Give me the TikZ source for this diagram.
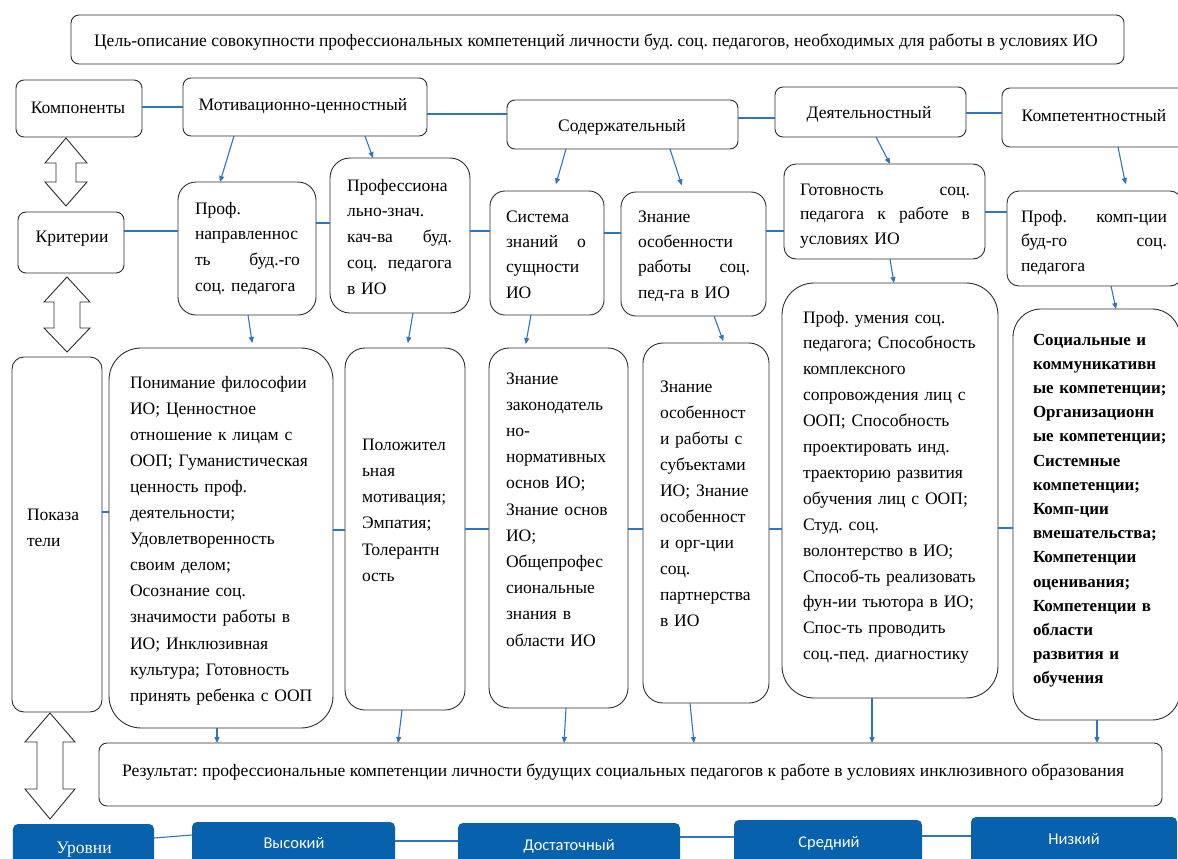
\documentclass[tikz,border=0pt]{standalone}
\usepackage{fontspec}
\setmainfont{Liberation Serif}
\newfontfamily\calib{Carlito}
\usetikzlibrary{arrows.meta}
\definecolor{lnblue}{RGB}{46,117,190}
\definecolor{bxblue}{RGB}{8,97,172}
\definecolor{bord}{RGB}{45,45,45}
\newcommand\jl[2]{\leavevmode\hbox to #1bp{#2}}
\tikzset{
  box/.style={draw=bord, line width=0.9bp, fill=white, inner sep=0pt, outer sep=0pt, rounded corners=#1},
  box/.default=8bp,
  blk/.style={fill=bxblue, draw=none, inner sep=0pt, outer sep=0pt, rounded corners=5bp},
  txt/.style={inner sep=0pt, outer sep=0pt, anchor=base west, align=left, text width=400bp, font=\frenchspacing\fontsize{17.6}{#1}\selectfont},
  txt/.default=26,
  stxt/.style={inner sep=0pt, outer sep=0pt, anchor=base, font=\frenchspacing\fontsize{17.6}{20}\selectfont},
  wtxt/.style={inner sep=0pt, outer sep=0pt, anchor=base, text=white, font=\calib\fontsize{16.5}{19}\selectfont},
  ln/.style={draw=lnblue, line width=1.1bp},
  arr/.style={ln, -{Triangle[length=6bp,width=5bp]}},
  blockarrow/.style={draw=bord, line width=0.9bp, fill=white, line join=miter},
}
\begin{document}
\begin{tikzpicture}[x=1bp,y=-1bp]
\useasboundingbox (0,0) rectangle (1178,859);
\clip (0,0) rectangle (1178,859);

% ---------- boxes ----------
\node[box, minimum width=1053bp, minimum height=49bp] (goal) at (597.5,39.5) {};
\node[box, minimum width=126bp, minimum height=57bp] (komp) at (79,108.5) {};
\node[box, minimum width=244bp, minimum height=58bp] (motiv) at (305,107) {};
\node[box, minimum width=231bp, minimum height=49bp] (soder) at (622.5,124.5) {};
\node[box, minimum width=191bp, minimum height=50bp] (deyat) at (870.5,112) {};
\node[box, minimum width=189bp, minimum height=59bp] (kompet) at (1096.5,117.5) {};
\node[box, minimum width=106bp, minimum height=61bp] (krit) at (71,242.5) {};
\node[box=18bp, minimum width=138bp, minimum height=133bp] (napr) at (247,248.5) {};
\node[box=20bp, minimum width=140bp, minimum height=155bp] (prof) at (400,235.5) {};
\node[box=15bp, minimum width=114bp, minimum height=124bp] (sys) at (547,253) {};
\node[box=15bp, minimum width=145bp, minimum height=124bp] (znos) at (693.5,254) {};
\node[box=12bp, minimum width=201bp, minimum height=95bp] (gotov) at (884.5,211.5) {};
\node[box=12bp, minimum width=175bp, minimum height=95bp] (profk) at (1094.5,238.5) {};
\node[box=12bp, minimum width=90bp, minimum height=355bp] (pokaz) at (57,534.5) {};
\node[box=32bp, minimum width=224bp, minimum height=380bp] (ponim) at (221,538) {};
\node[box=20bp, minimum width=120bp, minimum height=362bp] (polozh) at (405,529) {};
\node[box=20bp, minimum width=139bp, minimum height=360bp] (zakon) at (558.5,528) {};
\node[box=20bp, minimum width=126bp, minimum height=360bp] (osob) at (706,523) {};
\node[box=32bp, minimum width=216bp, minimum height=415bp] (umen) at (890,490.5) {};
\node[box=28bp, minimum width=167bp, minimum height=411bp] (soc) at (1096.5,514.5) {};
\node[box, minimum width=1063bp, minimum height=63bp] (result) at (630.5,774.5) {};
\node[blk, minimum width=141bp, minimum height=66bp] (urovni) at (83.5,857) {};
\node[blk, minimum width=203bp, minimum height=68bp] (vysok) at (293.5,856) {};
\node[blk, minimum width=222bp, minimum height=67bp] (dost) at (569,856.5) {};
\node[blk, minimum width=188bp, minimum height=70bp] (sred) at (828,855) {};
\node[blk, minimum width=206bp, minimum height=73bp] (nizk) at (1074,853.5) {};

% ---------- block double arrows ----------
\draw[blockarrow] (66,138) -- (87,163) -- (76,163) -- (76,182) -- (87,182) -- (66,206)
  -- (45,182) -- (56,182) -- (56,163) -- (45,163) -- cycle;
\draw[blockarrow] (67,277) -- (90,302) -- (80,302) -- (80,328) -- (90,328) -- (67,352)
  -- (44,328) -- (54,328) -- (54,302) -- (44,302) -- cycle;
\draw[blockarrow] (50,713) -- (75,742) -- (63,742) -- (63,789) -- (75,789) -- (50,819)
  -- (25,789) -- (37,789) -- (37,742) -- (25,742) -- cycle;

% ---------- texts ----------
\node[stxt] (t-goal) at (596,46) {Цель-описание совокупности профессиональных компетенций личности буд. соц. педагогов, необходимых для работы в условиях ИО};
\node[stxt] (t-komp) at (78,113) {Компоненты};
\node[stxt] (t-motiv) at (303,110) {Мотивационно-ценностный};
\node[stxt] (t-soder) at (622,131) {Содержательный};
\node[stxt] (t-deyat) at (869,118) {Деятельностный};
\node[stxt] (t-kompet) at (1094,121) {Компетентностный};
\node[stxt] (t-krit) at (72,242) {Критерии};

\node[txt] (t-napr) at (195,214) {Проф.\\ направленнос\\ \jl{105}{ть\hfill буд.-го}\\ соц. педагога};
\node[txt] (t-prof) at (347,191) {Профессиона\\ льно-знач.\\ \jl{105}{кач-ва\hfill буд.}\\ \jl{105}{соц.\hfill педагога}\\ в ИО};
\node[txt=25.5] (t-sys) at (506,222) {Система\\ \jl{80}{знаний\hfill о}\\ сущности\\ ИО};
\node[txt=25.5] (t-znos) at (638,222) {Знание\\ особенности\\ \jl{112}{работы\hfill соц.}\\ пед-га в ИО};
\node[txt=25] (t-gotov) at (800,195) {\jl{170}{Готовность\hfill соц.}\\ \jl{170}{педагога\hfill к\hfill работе\hfill в}\\ условиях ИО};
\node[txt=25] (t-profk) at (1021,222) {\jl{146}{Проф.\hfill комп-ции}\\ \jl{146}{буд-го\hfill соц.}\\ педагога};

\node[txt=27] (t-pokaz) at (27,520) {Показа\\ тели};
\node[txt=26.2] (t-ponim) at (130,388) {Понимание философии\\ ИО; Ценностное\\ отношение к лицам с\\ ООП; Гуманистическая\\ ценность проф.\\ деятельности;\\ Удовлетворенность\\ своим делом;\\ Осознание соц.\\ значимости работы в\\ ИО; Инклюзивная\\ культура; Готовность\\ принять ребенка с ООП};
\node[txt=26.4] (t-polozh) at (362,450) {Положител\\ ьная\\ мотивация;\\ Эмпатия;\\ Толерантн\\ ость};
\node[txt=26.3] (t-zakon) at (506,384) {Знание\\ законодатель\\ но-\\ нормативных\\ основ ИО;\\ Знание основ\\ ИО;\\ Общепрофес\\ сиональные\\ знания в\\ области ИО};
\node[txt=26.1] (t-osob) at (660,392) {Знание\\ особенност\\ и работы с\\ субъектами\\ ИО; Знание\\ особенност\\ и орг-ции\\ соц.\\ партнерства\\ в ИО};
\node[txt=26] (t-umen) at (803,323) {Проф. умения соц.\\ педагога; Способность\\ комплексного\\ сопровождения лиц с\\ ООП; Способность\\ проектировать инд.\\ траекторию развития\\ обучения лиц с ООП;\\ Студ. соц.\\ волонтерство в ИО;\\ Способ-ть реализовать\\ фун-ии тьютора в ИО;\\ Спос-ть проводить\\ соц.-пед. диагностику};
\node[txt=24.3, font=\bfseries\fontsize{17}{24.3}\selectfont] (t-soc) at (1033,345) {Социальные и\\ коммуникативн\\ ые компетенции;\\ Организационн\\ ые компетенции;\\ Системные\\ компетенции;\\ Комп-ции\\ вмешательства;\\ Компетенции\\ оценивания;\\ Компетенции в\\ области\\ развития и\\ обучения};

\node[stxt, anchor=base west] (t-result) at (122,776) {Результат: профессиональные компетенции личности будущих социальных педагогов к работе в условиях инклюзивного образования};

\node[stxt, text=white] (t-urovni) at (84,853) {Уровни};
\node[wtxt] (t-vysok) at (294,848) {Высокий};
\node[wtxt] (t-dost) at (569,850) {Достаточный};
\node[wtxt] (t-sred) at (829,847) {Средний};
\node[wtxt] (t-nizk) at (1074,844) {Низкий};

% ---------- horizontal connectors ----------
\draw[ln] (komp.east |- 0,107) -- (motiv.west |- 0,107);
\draw[ln] (motiv.east |- 0,114) -- (soder.west |- 0,114);
\draw[ln] (soder.east |- 0,118) -- (deyat.west |- 0,118);
\draw[ln] (deyat.east |- 0,113) -- (kompet.west |- 0,113);
\draw[ln] (krit.east |- 0,231) -- (napr.west |- 0,231);
\draw[ln] (napr.east |- 0,223) -- (prof.west |- 0,223);
\draw[ln] (prof.east |- 0,231) -- (sys.west |- 0,231);
\draw[ln] (sys.east |- 0,233) -- (znos.west |- 0,233);
\draw[ln] (znos.east |- 0,231) -- (gotov.west |- 0,231);
\draw[ln] (gotov.east |- 0,212) -- (profk.west |- 0,212);
\draw[ln] (pokaz.east |- 0,512) -- (ponim.west |- 0,512);
\draw[ln] (ponim.east |- 0,530) -- (polozh.west |- 0,530);
\draw[ln] (polozh.east |- 0,529) -- (zakon.west |- 0,529);
\draw[ln] (zakon.east |- 0,529) -- (osob.west |- 0,529);
\draw[ln] (osob.east |- 0,529) -- (umen.west |- 0,529);
\draw[ln] (umen.east |- 0,528) -- (soc.west |- 0,528);
\draw[ln] (urovni.east |- 0,838) -- (vysok.west |- 0,835);
\draw[ln] (vysok.east |- 0,841) -- (dost.west |- 0,841);
\draw[ln] (dost.east |- 0,837) -- (sred.west |- 0,837);
\draw[ln] (sred.east |- 0,836) -- (nizk.west |- 0,836);

% ---------- arrows ----------
\draw[arr] (234,0 |- motiv.south) -- (220,0 |- napr.north);
\draw[arr] (365,0 |- motiv.south) -- (373,0 |- prof.north);
\draw[arr, shorten >=7bp] (566,0 |- soder.south) -- (554,0 |- sys.north);
\draw[arr, shorten >=7bp] (670,0 |- soder.south) -- (684,0 |- znos.north);
\draw[arr] (876,0 |- deyat.south) -- (890,0 |- gotov.north);
\draw[arr, shorten >=7bp] (1118,0 |- kompet.south) -- (1127,0 |- profk.north);
\draw[arr, shorten >=5bp] (248,0 |- napr.south) -- (253,0 |- ponim.north);
\draw[arr, shorten >=5bp] (413,0 |- prof.south) -- (407,0 |- polozh.north);
\draw[arr, shorten >=4bp] (531,0 |- sys.south) -- (525,0 |- zakon.north);
\draw[arr, shorten >=2bp] (714,0 |- znos.south) -- (724,0 |- osob.north);
\draw[arr] (890,0 |- gotov.south) -- (894,0 |- umen.north);
\draw[arr] (1111,0 |- profk.south) -- (1116,0 |- soc.north);
\draw[arr] (217,0 |- ponim.south) -- (217,0 |- result.north);
\draw[arr] (402,0 |- polozh.south) -- (398,0 |- result.north);
\draw[arr] (566,0 |- zakon.south) -- (564,0 |- result.north);
\draw[arr] (690,0 |- osob.south) -- (694,0 |- result.north);
\draw[arr] (872,0 |- umen.south) -- (872,0 |- result.north);
\draw[arr] (1097,0 |- soc.south) -- (1097,0 |- result.north);
\end{tikzpicture}
\end{document}
